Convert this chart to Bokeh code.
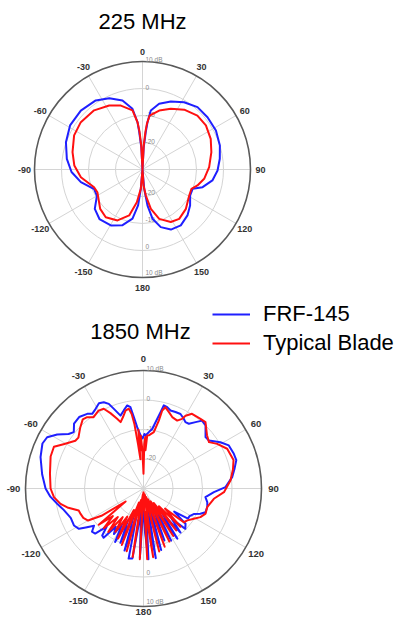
import numpy as np
from bokeh.plotting import figure
from bokeh.models import Range1d, Legend, LegendItem
from bokeh.core.properties import value
from bokeh.embed import file_html
from bokeh.resources import INLINE

# ---------------- data ----------------
titles = ["225 MHz", "1850 MHz"]
series_names = ["FRF-145", "Typical Blade"]
series_colors = ["#1f1fff", "#ff1010"]
ring_db = [-20, -10, 0, 10]
ring_labels = ["-20", "-10", "0", "10 dB"]
angle_ticks = [0, 30, 60, 90, 120, 150, 180, -150, -120, -90, -60, -30]
db_min, db_max = -30, 10

# 225 MHz, FRF-145
ang_225_frf = [-180, -175, -173, -168.5, -160, -150.5, -139, -129.5, -120, -112, -101.6, -92,
               -82, -70.4, -58.7, -46.3, -34.1, -25, -16.2, -9.4, -6, -5, -3, 0,
               3, 5, 6, 8, 14.2, 22.6, 31.7, 41.4, 51.2, 62, 72.8, 82.1, 90.8, 98.9,
               106.4, 111.1, 118.6, 127.1, 135.6, 145.6, 154.7, 162.4, 168.5, 172.1, 175, 180]
db_225_frf = [-30, -22.8, -16.6, -11.4, -8.0, -6.2, -5.7, -7.1, -10.5, -10.7, -6.7, -3.7,
              -1.7, 0.1, 1.4, 1.6, 0.9, -0.9, -3.4, -7.2, -12.4, -16, -22, -30,
              -22, -16, -12.4, -7.9, -4.9, -2.7, -0.7, 0.8, 0.9, 0.8, 0.0, -1.1, -2.2, -3.8,
              -6.8, -10.1, -9.9, -7.9, -6.2, -4.9, -5.4, -7.6, -11.4, -16.5, -22.8, -30]

# 225 MHz, Typical Blade
ang_225_blade = [-180, -175, -170.2, -163.8, -153.9, -142.4, -132.9, -116.7, -110.1, -97.1, -86.6,
                 -76.1, -63.5, -52.5, -39.3, -27.5, -18.7, -9.6, -6, -4.5, -3, 0,
                 3, 4.4, 5.5, 7.5, 15.8, 25, 34.9, 45.5, 55.2, 65.8, 75.9, 88, 98.6, 106.2,
                 111.5, 119.1, 132.2, 143.4, 151.7, 161.3, 168, 172.7, 176, 180]
db_225_blade = [-30, -22.8, -17.7, -12.3, -9.0, -7.7, -8.6, -11.3, -10.9, -7.0, -4.7,
                -3.3, -1.7, -1.2, -1.7, -3.3, -5.0, -7.8, -12.4, -16, -21, -30,
                -21, -16, -13, -9.9, -7.3, -5.2, -3.0, -1.5, -1.4, -2.3, -3.7, -5.3, -6.9, -8.8,
                -10.5, -10.2, -8.3, -7.2, -7.9, -10.7, -15.1, -20.3, -24, -30]

# 1850 MHz, FRF-145
ang_1850_frf = [-180, -177, -174, -171, -168, -166, -163, -160, -157, -154, -152, -149, -147,
                -144, -141, -138.7, -136, -133, -130, -127, -124, -122, -118, -112, -105,
                -100, -95, -90, -82, -73, -66, -62, -58, -54, -51, -47, -42, -37, -34.5,
                -31, -27.6, -24.7, -22.3, -20.4, -17.5, -14.2, -11.1, -9.1, -7.7, -5.9, -3.2,
                -1, 1, 2.2, 5.4, 8.3, 10.3, 12.6, 13.7, 16.3, 19.1, 22.7, 26.4, 30, 32.3,
                35, 38.1, 40.8, 44.5, 50.4, 53.7, 59, 63.2, 69, 73, 78, 82.7, 89, 93, 98,
                102, 106, 111, 114, 117, 121, 124, 127, 130, 134, 137, 140, 143, 146, 149,
                152, 155, 158, 161, 164, 167, 170, 173, 176, 178, 180]
db_1850_frf = [-24, -6.5, -22, -6, -5.7, -20, -8, -21, -10, -18, -9.5, -16, -11.6,
               -14, -8.5, -8.8, -12, -7.6, -7.2, -9, -6.4, -4.2, -3.3, -3.4, -2.0,
               -0.3, 1.7, 3.2, 4.7, 6.5, 7.5, 7.0, 4.5, 1.4, 0.4, 2.2, 2.6, 1.7, 0.7,
               1.5, 2.6, 2.2, 1.0, -1.2, -4.1, -2.7, -1.3, -2.1, -5.6, -9.1, -12,
               -13, -11.5, -12, -10.8, -9.6, -7.2, -3.5, -1.0, -1.3, -2.0, -1.9, -1.8, -2.7, -3.4,
               -3.2, -1.4, 0.4, 0.0, -2.7, -2.5, 0.4, 2.4, 2.8, 2.9, 1.5, 0.3, -2.2, -6.1, -8.8,
               -7.9, -7.5, -7.5, -8.9, -10.9, -11.8, -11.8, -17, -11.4, -10.3, -16, -10.5, -20, -9.5, -22,
               -10, -21, -11, -22, -8.3, -23, -6, -22, -6, -15, -24]

# 1850 MHz, Typical Blade
ang_1850_blade = [-180, -177, -174, -171, -168, -165, -162, -159, -156, -153, -150, -147, -144,
                  -141, -138, -135, -132, -129, -126, -123, -120, -116, -112, -108.8, -104,
                  -100.5, -95.5, -90, -81, -71, -65, -61, -55, -52, -46, -41.3, -38.3, -35,
                  -30, -26.5, -23.7, -20.7, -19, -16, -13, -10.4, -9, -8, -7, -6, -5, -4,
                  -3, -2, -1, 0, 1, 2, 3, 4, 5.7, 10.4, 12.7, 13.5, 15.1, 18.4, 21.9, 26.4,
                  29, 30, 33, 39.3, 43, 50, 54.7, 58.8, 64.6, 72.5, 78, 84.7, 92.6, 98.3,
                  106.4, 112, 116.7, 121, 126, 130, 133, 136, 139, 142, 145, 148, 151, 154,
                  157, 160, 163, 166, 169, 172, 175, 177, 180]
db_1850_blade = [-29, -6, -28, -6.5, -26, -8, -25, -9.5, -22, -11, -19, -12.5, -18,
                 -11, -17, -11, -16, -10.5, -22.5, -13, -8.3, -7.3, -7.0, -6.8, -3.4,
                 -1.4, 0.5, 1.5, 2.1, 3.3, 3.5, 1.0, -1.8, -2.0, -0.2, 1.2, 0.8, -0.5,
                 0.5, 0.2, -2.1, -4.7, -6.2, -4.8, -2.9, -2.5, -4.4, -8, -15, -20, -10, -17,
                 -12, -16, -22, -25, -15, -12.5, -17, -12, -11.9, -10.6, -6.4, -2.8, -1.5, -2.7, -3.9, -4.3,
                 -3.0, -1.5, 0.2, 0.5, 0.8, -1.9, -2.8, -0.8, 1.4, 2.0, 1.0, -0.4, -2.7, -5.9,
                 -7.5, -7.3, -8.4, -10.1, -11.6, -12.2, -20, -12, -22, -12, -24, -11, -25, -10,
                 -26, -9, -27, -8, -28, -6.5, -22, -6, -29]

# ---------------- layout ----------------
W, H = 400, 616
charts = [
    dict(cx=142, cy=169, R=108, lab_off=10, tick_fs="9px", title_y=21, title_x=142,
         data=[(ang_225_frf, db_225_frf), (ang_225_blade, db_225_blade)]),
    dict(cx=143, cy=488, R=118, lab_off=12, tick_fs="9.5px", title_y=331, title_x=140,
         data=[(ang_1850_frf, db_1850_frf), (ang_1850_blade, db_1850_blade)]),
]
FONT = value("Liberation Sans")

p = figure(width=W, height=H, x_range=Range1d(0, W), y_range=Range1d(H, 0),
           output_backend="svg", toolbar_location=None, min_border=0,
           x_axis_location=None, y_axis_location=None)
p.grid.visible = False
p.outline_line_color = None
p.background_fill_color = "white"
p.border_fill_color = "white"


def rad(db, R):
    return np.clip((np.asarray(db, float) - db_min) / (db_max - db_min), 0, None) * R


def to_xy(cx, cy, R, ang, db):
    a = np.radians(np.asarray(ang, float))
    r = rad(db, R)
    return cx + r * np.sin(a), cy - r * np.cos(a)


legend_renderers = None
for ci, c in enumerate(charts):
    cx, cy, R = c["cx"], c["cy"], c["R"]
    # rings
    inner = [float(rad(d, R)) for d in ring_db[:-1]]
    p.circle(x=[cx] * len(inner), y=[cy] * len(inner), radius=inner,
             fill_color=None, line_color="#d4d4d4", line_width=1)
    # spokes
    sa = np.radians(np.arange(0, 360, 30))
    p.segment(x0=[cx] * len(sa), y0=[cy] * len(sa), x1=list(cx + R * np.sin(sa)),
              y1=list(cy - R * np.cos(sa)), line_color="#d4d4d4", line_width=1)
    # outer ring
    p.circle(x=[cx], y=[cy], radius=[R], fill_color=None, line_color="#5a5a5a", line_width=1.6)
    # ring labels (above and below centre)
    rr = [float(rad(d, R)) for d in ring_db]
    p.text(x=[cx + 3] * len(rr) * 2, y=[cy - r + 1 for r in rr] + [cy + r - 2 for r in rr],
           text=ring_labels * 2, text_font=FONT, text_font_size="6.5px",
           text_color="#8a8a8a", text_baseline="bottom", text_align="left")
    # angle labels
    ta = np.radians(np.asarray(angle_ticks, float))
    rl = np.full(len(angle_ticks), R + c["lab_off"], dtype=float)
    if ci == 1:
        rl[angle_ticks.index(180)] = R + 5  # keep the bottom label inside the page
    p.text(x=list(cx + rl * np.sin(ta)), y=list(cy - rl * np.cos(ta)),
           text=[str(t) for t in angle_ticks], text_font=FONT, text_font_size=c["tick_fs"],
           text_font_style="bold", text_color="#333333",
           text_align="center", text_baseline="middle")
    # title
    p.text(x=[c["title_x"]], y=[c["title_y"]], text=[titles[ci]], text_font=FONT,
           text_font_size="22px", text_color="#000000", text_align="center",
           text_baseline="middle")
    # curves
    rends = []
    for si, (ang, db) in enumerate(c["data"]):
        x, y = to_xy(cx, cy, R, ang, db)
        rr_ = p.line(x=list(x), y=list(y), line_color=series_colors[si], line_width=2,
                     line_join="round")
        rends.append(rr_)
    if legend_renderers is None:
        legend_renderers = rends

legend = Legend(items=[LegendItem(label=series_names[i], renderers=[legend_renderers[i]])
                       for i in range(2)],
                location=(212, 260), orientation="vertical",
                label_text_font="Liberation Sans", label_text_font_size="22px",
                label_text_color="#000000", glyph_width=38, glyph_height=20,
                label_standoff=13, spacing=3, padding=0, margin=0,
                border_line_color=None, background_fill_alpha=0)
p.add_layout(legend, "center")

open("out.html", "w").write(file_html(p, INLINE))
